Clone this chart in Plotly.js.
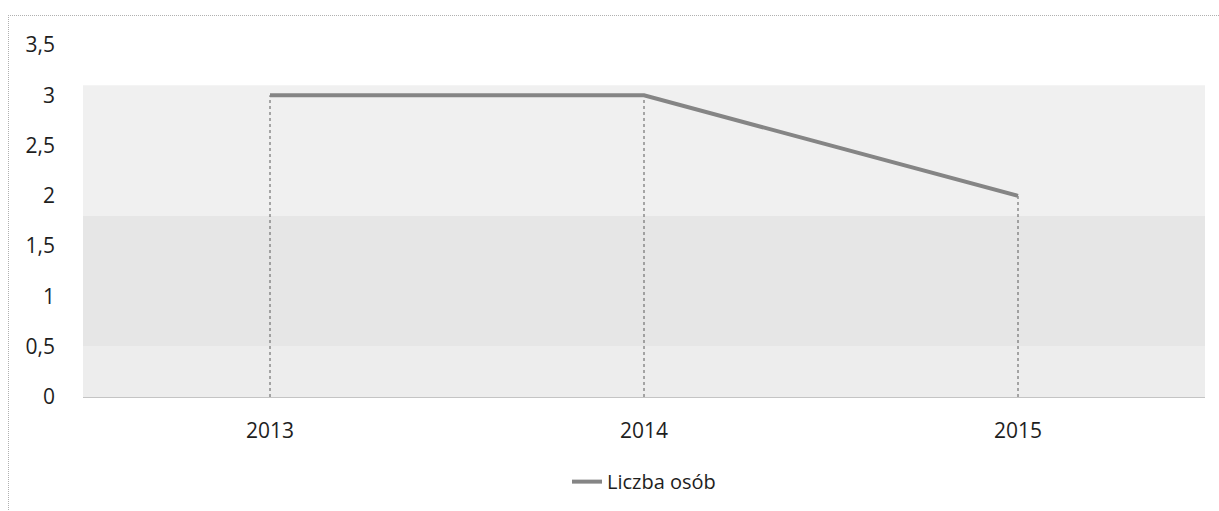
<!DOCTYPE html>
<html>
<head>
<meta charset="utf-8">
<script src="https://cdn.plot.ly/plotly-3.0.1.min.js"></script>
<style>
  html, body { margin: 0; padding: 0; background: #ffffff; }
  #wrap { position: relative; width: 1219px; height: 511px; overflow: hidden; }
  #frame { position: absolute; left: 8px; top: 15px; width: 1230px; height: 520px;
           border-left: 1px dotted #b0b0b0; border-top: 1px dotted #b0b0b0; pointer-events: none; }
  #chart { position: absolute; left: 0; top: 0; width: 1219px; height: 511px; }
</style>
</head>
<body>
<div id="wrap">
  <div id="chart"></div>
  <div id="frame"></div>
</div>
<script>
  // Data
  const years = ["2013", "2014", "2015"];
  const liczbaOsob = [3, 3, 2];
  const seriesName = "Liczba osób";
  const yTicks = [0, 0.5, 1, 1.5, 2, 2.5, 3, 3.5];

  const font = "Open Sans, Noto Sans, DejaVu Sans, sans-serif";

  // drop lines from each point down to the axis
  const dropLines = years.map((yr, i) => ({
    x: [yr, yr],
    y: [0, liczbaOsob[i]],
    type: "scatter",
    mode: "lines",
    line: { color: "#5a5a5a", width: 1, dash: "dot" },
    showlegend: false,
    hoverinfo: "skip"
  }));

  const mainLine = {
    x: years,
    y: liczbaOsob,
    type: "scatter",
    mode: "lines",
    name: seriesName,
    line: { color: "#858585", width: 4 }
  };

  const layout = {
    width: 1219,
    height: 511,
    margin: { l: 83, r: 14, t: 45, b: 114, autoexpand: false },
    paper_bgcolor: "rgba(0,0,0,0)",
    plot_bgcolor: "rgba(0,0,0,0)",
    separators: ", ",
    showlegend: true,
    legend: {
      orientation: "h",
      x: 0.5, xanchor: "center",
      y: -0.185, yanchor: "top",
      font: { family: font, size: 20, color: "#1e1e1e" },
      bgcolor: "rgba(0,0,0,0)"
    },
    xaxis: {
      type: "category",
      range: [-0.5, 2.5],
      showgrid: false,
      zeroline: false,
      showline: true,
      linecolor: "#c4c4c4",
      linewidth: 1,
      ticks: "",
      ticklabelstandoff: 15,
      tickfont: { family: font, size: 21, color: "#1e1e1e" },
      fixedrange: true
    },
    yaxis: {
      range: [0, 3.5],
      tickvals: yTicks,
      showgrid: false,
      zeroline: false,
      showline: false,
      ticks: "",
      ticklabelstandoff: 27,
      tickfont: { family: font, size: 21, color: "#1e1e1e" },
      fixedrange: true
    },
    shapes: [
      { type: "rect", xref: "paper", yref: "y", x0: 0, x1: 1, y0: 1.8, y1: 3.1,
        fillcolor: "#f0f0f0", line: { width: 0 }, layer: "below" },
      { type: "rect", xref: "paper", yref: "y", x0: 0, x1: 1, y0: 0.5, y1: 1.8,
        fillcolor: "#e6e6e6", line: { width: 0 }, layer: "below" },
      { type: "rect", xref: "paper", yref: "y", x0: 0, x1: 1, y0: 0, y1: 0.5,
        fillcolor: "#ededed", line: { width: 0 }, layer: "below" }
    ]
  };

  Plotly.newPlot("chart", [...dropLines, mainLine], layout, { displayModeBar: false, staticPlot: true });
</script>
</body>
</html>
